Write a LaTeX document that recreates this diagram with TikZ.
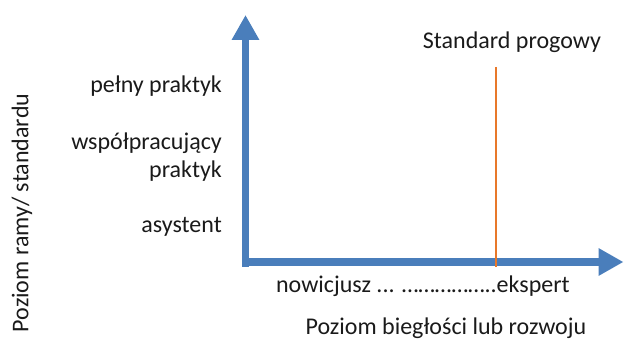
\documentclass[tikz,border=0pt]{standalone}
\usepackage{fontspec}
\setmainfont{Carlito}
\usetikzlibrary{arrows.meta}
\definecolor{AxisBlue}{HTML}{4A7EBB}
\definecolor{LineOrange}{HTML}{E8782A}
\definecolor{TextBlack}{HTML}{1A1A1A}

\begin{document}
\begin{tikzpicture}[
    x=1pt, y=1pt,
    every node/.style={font=\fontsize{24}{28}\selectfont, color=TextBlack, inner sep=0pt},
    axisarrow/.style={-{Triangle[width=26pt,length=25pt]}, line width=7.5pt, color=AxisBlue},
    levellabel/.style={anchor=east, align=right},
    thresholdline/.style={line width=2pt, color=LineOrange}
  ]
    \useasboundingbox (0,0) rectangle (624,340);

    % Axes
    \coordinate (yaxis_start) at (245.5,73);
    \coordinate (yaxis_end) at (245.5,325);
    \coordinate (xaxis_start) at (249,78);
    \coordinate (xaxis_end) at (623.5,78);
    \draw[axisarrow] (yaxis_start) -- (yaxis_end);
    \draw[axisarrow] (xaxis_start) -- (xaxis_end);

    % Threshold standard (orange)
    \coordinate (thr_top) at (496,273);
    \coordinate (thr_bottom) at (496,73);
    \draw[thresholdline] (thr_top) -- (thr_bottom);
    \node (thr_label) at (512,298) {Standard progowy};

    % Levels on the vertical axis
    \node[levellabel] (lvl_full) at (222,254) {pełny praktyk};
    \node[levellabel] (lvl_coop) at (222,183) {współpracujący\\praktyk};
    \node[levellabel] (lvl_assist) at (222,113) {asystent};

    % Axis titles
    \node[rotate=90] (ytitle) at (22,127) {Poziom ramy/ standardu};
    \node (xscale) at (423,54) {nowicjusz ... ……………..ekspert};
    \node (xtitle) at (446,12) {Poziom biegłości lub rozwoju};

  \end{tikzpicture}
\end{document}
